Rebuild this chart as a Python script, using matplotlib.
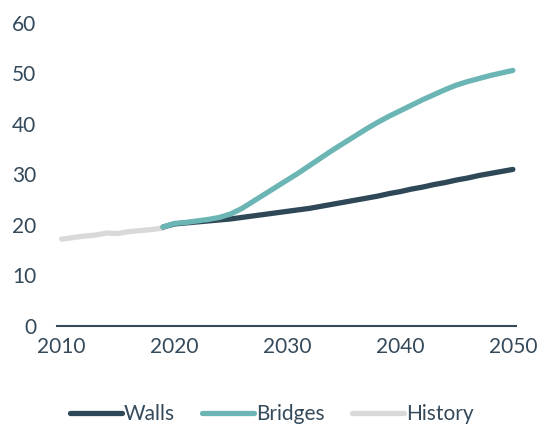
import matplotlib
matplotlib.use("Agg")
import matplotlib.pyplot as plt

history_years = list(range(2010, 2020))
history = [17.2, 17.5, 17.8, 18.0, 18.4, 18.3, 18.7, 18.9, 19.1, 19.4]

proj_years = list(range(2019, 2051))
walls = [19.6, 20.2, 20.4, 20.6, 20.8, 21.0, 21.2, 21.5, 21.8, 22.1, 22.4, 22.7,
         23.0, 23.3, 23.7, 24.1, 24.5, 24.9, 25.3, 25.7, 26.2, 26.6, 27.1, 27.5,
         28.0, 28.4, 28.9, 29.3, 29.8, 30.2, 30.6, 31.0]
bridges = [19.6, 20.3, 20.5, 20.8, 21.1, 21.5, 22.2, 23.3, 24.7, 26.1, 27.5, 28.9,
           30.3, 31.8, 33.3, 34.8, 36.2, 37.6, 39.0, 40.3, 41.5, 42.6, 43.7, 44.8,
           45.8, 46.8, 47.7, 48.4, 49.0, 49.6, 50.1, 50.6]

x_ticks = [2010, 2020, 2030, 2040, 2050]
y_ticks = [0, 10, 20, 30, 40, 50, 60]

TEXT = "#34495a"
plt.rcParams["font.family"] = ["Lato", "DejaVu Sans"]

fig = plt.figure(figsize=(5.44, 4.30), dpi=100)
ax = fig.add_axes([0.105, 0.2419, 0.844, 0.7047])

ax.plot(history_years, history, color="#d9d9d9", lw=3.8, solid_capstyle="round", label="History", zorder=2)
ax.plot(proj_years, walls, color="#2f4858", lw=3.8, solid_capstyle="round", label="Walls", zorder=3)
ax.plot(proj_years, bridges, color="#6bb5b5", lw=3.8, solid_capstyle="round", label="Bridges", zorder=4)

ax.set_xlim(2009.6, 2050.3)
ax.set_ylim(0, 60)
ax.set_xticks(x_ticks)
ax.set_yticks(y_ticks)
for s in ["top", "right", "left"]:
    ax.spines[s].set_visible(False)
ax.spines["bottom"].set_color(TEXT)
ax.spines["bottom"].set_linewidth(1.5)
ax.spines["bottom"].set_zorder(1)
ax.tick_params(axis="both", length=0, labelsize=15, colors=TEXT)
ax.tick_params(axis="y", pad=15)
ax.tick_params(axis="x", pad=8)

h, l = ax.get_legend_handles_labels()
order = [1, 2, 0]
fig.legend([h[i] for i in order], [l[i] for i in order], loc="lower center",
           bbox_to_anchor=(0.5, -0.03), ncol=3, frameon=False, fontsize=15,
           handlelength=2.5, handletextpad=0.1, columnspacing=1.3, labelcolor=TEXT)

fig.savefig("out.png", dpi=100)
